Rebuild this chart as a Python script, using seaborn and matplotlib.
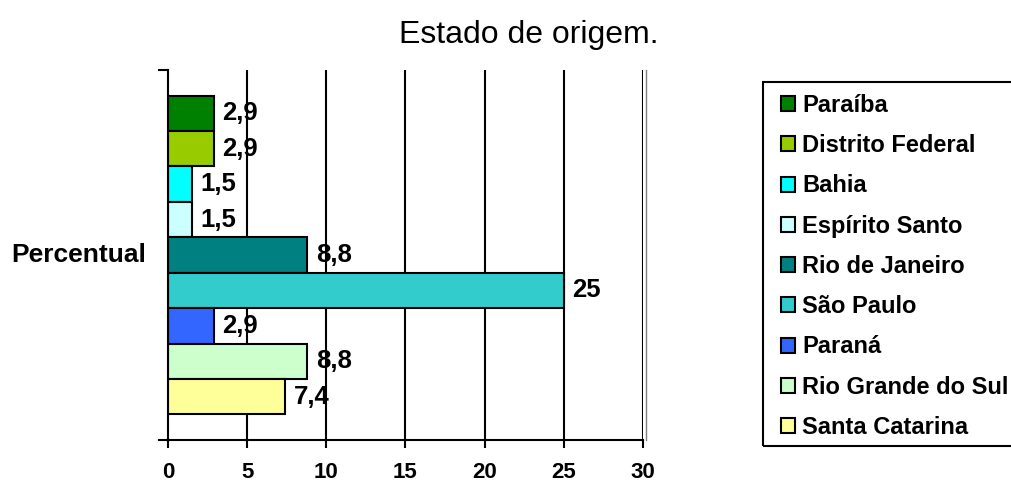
import matplotlib
matplotlib.use("Agg")
import matplotlib.pyplot as plt
import seaborn as sns
import pandas as pd
from matplotlib.ticker import FixedLocator, NullFormatter
from matplotlib.patches import Rectangle

estados = ["Paraíba", "Distrito Federal", "Bahia", "Espírito Santo", "Rio de Janeiro",
           "São Paulo", "Paraná", "Rio Grande do Sul", "Santa Catarina"]
valores = [2.9, 2.9, 1.5, 1.5, 8.8, 25, 2.9, 8.8, 7.4]
cores = ["#008000", "#99CC00", "#00FFFF", "#CCFFFF", "#008080",
         "#33CCCC", "#3366FF", "#CCFFCC", "#FFFF99"]
grupo = ["Percentual"] * len(estados)
xticks = [0, 5, 10, 15, 20, 25, 30]

sns.set_style("white")
plt.rcParams["font.family"] = ["Liberation Sans", "DejaVu Sans"]
plt.rcParams["text.color"] = "black"
plt.rcParams["xtick.color"] = "black"
plt.rcParams["ytick.color"] = "black"
plt.rcParams["axes.labelcolor"] = "black"

df = pd.DataFrame({"estado": estados, "valor": valores, "grupo": grupo})

fig = plt.figure(figsize=(10.12, 4.84), dpi=100)
ax = fig.add_axes([168/1012, 1-440/484, (643-168)/1012, 370/484])

sns.barplot(data=df, x="valor", y="grupo", hue="estado", hue_order=estados,
            palette=cores, orient="h", width=0.862, edgecolor="black",
            linewidth=1.5, saturation=1, ax=ax, legend=True)

ax.set_xlim(0, 30)
ax.set_ylim(0.5, -0.5)
ax.set_xticks(xticks)
ax.set_xticklabels([str(t) for t in xticks], fontsize=16, fontweight="bold", color="black")
ax.set_xlabel("")
ax.set_ylabel("")
ax.yaxis.set_major_locator(FixedLocator([-0.5, 0.5]))
ax.yaxis.set_major_formatter(NullFormatter())
ax.tick_params(axis="y", which="major", length=7, width=1.5, color="black", direction="out", left=True)
ax.tick_params(axis="x", which="major", length=6, width=1.5, color="black", direction="out", pad=10, bottom=True)

ax.text(-0.046, 0.5, "Percentual", transform=ax.transAxes, ha="right", va="center",
        fontsize=19, fontweight="bold", color="black")

ax.grid(False)
for t in xticks[1:]:
    ax.axvline(t, color="black", linewidth=1.5, zorder=0)

ax.spines["top"].set_visible(False)
for s in ["left", "bottom"]:
    ax.spines[s].set_color("black")
    ax.spines[s].set_linewidth(1.5)
ax.spines["right"].set_position(("outward", 2))
ax.spines["right"].set_color("#808080")
ax.spines["right"].set_linewidth(1)

for c, v in zip(ax.containers, valores):
    lab = f"{v:g}".replace(".", ",")
    ax.bar_label(c, labels=[lab], padding=6, fontsize=18.5, fontweight="bold", color="black")

handles, labels = ax.get_legend_handles_labels()
ax.get_legend().remove()
leg = fig.legend(handles, labels, loc="upper left", bbox_to_anchor=(781/1012, 1-94/484),
                 bbox_transform=fig.transFigure, frameon=False,
                 prop={"size": 17, "weight": "bold"}, labelspacing=0.73,
                 handlelength=0.6, handleheight=0.6, handletextpad=0.3,
                 borderpad=0, borderaxespad=0)
for h in leg.legend_handles:
    h.set_edgecolor("black")
    h.set_linewidth(1.5)
for t in leg.get_texts():
    t.set_color("black")

fig.patches.append(Rectangle((763/1012, 1-446/484), 280/1012, (446-82)/484,
                             transform=fig.transFigure, fill=False,
                             edgecolor="black", linewidth=1.5, figure=fig))

fig.text(529/1012, 1-35/484, "Estado de origem.", ha="center", va="center", fontsize=23, color="black")

fig.savefig("out.png", dpi=100)
